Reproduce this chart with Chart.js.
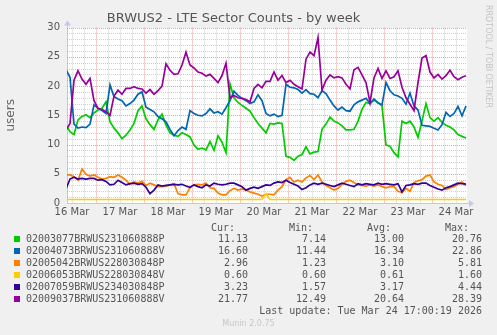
<!DOCTYPE html>
<html>
<head>
<meta charset="utf-8">
<script src="https://cdn.jsdelivr.net/npm/chart.js@4.4.0/dist/chart.umd.min.js"></script>
<style>
  body { margin: 0; background: #f0f0f0; }
  #wrap { position: relative; width: 497px; height: 335px; overflow: hidden; }
  #plotbg { position: absolute; left: 67px; top: 28px; width: 400px; height: 175px; background: #ffffff; }
  #c { position: absolute; left: 0; top: 0; }
  .lg { position: absolute; font: 10px 'DejaVu Sans Mono', monospace; color: #555; white-space: pre; line-height: 12px; }
  .sw { position: absolute; width: 6px; height: 6px; }
  #rrd { position: absolute; left: 484px; top: 5px; font: 8px 'DejaVu Sans', sans-serif; color: #c4c4c4; writing-mode: vertical-rl; }
  #munin { position: absolute; left: 0; width: 497px; top: 318px; text-align: center; font: 8px 'DejaVu Sans', sans-serif; color: #c8c8c8; line-height: 12px; }
</style>
</head>
<body>
<div id="wrap">
  <div id="plotbg"></div>
  <canvas id="c" width="497" height="335"></canvas>
  <div id="rrd">RRDTOOL / TOBI OETIKER</div>
  <div id="legend"></div>
  <div id="munin">Munin 2.0.75</div>
</div>
<script>
// Series names / colours (munin palette)
const seriesNames = [
    '02003077BRWUS231060888P',
    '02004073BRWUS231060888V',
    '02005042BRWUS228030848P',
    '02006053BRWUS228030848V',
    '02007059BRWUS234030848P',
    '02009037BRWUS231060888V'
];
const seriesColors = ['#00cc00', '#0066b3', '#ff8000', '#ffcc00', '#330099', '#990099'];

// samples every 2 hours, starting 16 Mar 09:00 (hours counted from 16 Mar 00:00)
const startHour = 9;
const stepHours = 2;

const green = [
    13.3, 12.2, 11.7, 14.2, 14.8, 15.1, 14.6, 15.4, 15.9, 16.2,
    17.3, 13.9, 12.8, 12.0, 11.0, 11.6, 12.5, 13.6, 15.8, 16.6,
    14.4, 13.4, 12.6, 14.2, 15.2, 13.3, 12.0, 11.6, 11.4, 12.0,
    11.7, 11.3, 9.9, 9.2, 9.4, 9.1, 10.5, 9.0, 11.5, 10.4,
    8.6, 20.4, 18.0, 17.2, 16.7, 16.2, 15.7, 14.6, 13.6, 12.8,
    12.0, 13.6, 13.5, 13.7, 13.6, 8.0, 7.8, 7.3, 8.0, 8.3,
    9.6, 8.4, 8.7, 8.8, 12.6, 13.5, 14.7, 14.0, 13.7, 13.2,
    12.5, 12.5, 12.6, 14.0, 16.0, 17.2, 17.0, 17.6, 17.2, 16.6,
    9.9, 9.7, 8.6, 7.9, 14.0, 13.6, 14.0, 13.0, 11.2, 14.0,
    17.0, 14.6, 14.0, 14.6, 13.8, 13.3, 13.0, 12.5, 11.7, 11.4,
    11.13
];
const blue = [
    22.8, 21.5, 13.5, 12.8, 13.0, 12.9, 13.5, 16.8, 16.2, 15.8,
    15.3, 20.2, 18.2, 17.8, 17.5, 16.6, 17.0, 17.6, 18.6, 19.0,
    16.4, 16.0, 15.6, 14.8, 14.4, 13.9, 12.6, 11.5, 12.4, 13.0,
    12.6, 15.8, 15.3, 15.0, 14.9, 15.3, 16.1, 15.4, 15.6, 15.2,
    16.3, 17.5, 19.1, 18.4, 17.9, 17.5, 17.0, 17.3, 18.5, 17.5,
    15.3, 14.9, 15.2, 14.8, 15.0, 20.3, 19.8, 19.7, 19.4, 18.8,
    19.4, 18.7, 18.6, 18.0, 19.2, 18.7, 17.6, 16.6, 15.9, 16.4,
    15.8, 15.7, 16.8, 17.3, 17.6, 17.9, 17.0, 17.8, 17.1, 16.8,
    20.6, 19.2, 18.5, 18.3, 17.9, 16.9, 18.8, 16.6, 15.9, 13.3,
    13.2, 13.1, 12.8, 12.5, 13.4, 15.5, 14.8, 15.3, 16.5, 14.9,
    16.60
];
const orange = [
    4.8, 4.8, 4.5, 3.9, 5.8, 4.9, 4.6, 4.8, 4.4, 4.1,
    4.2, 4.5, 4.4, 4.8, 4.4, 3.9, 3.2, 3.6, 3.4, 3.7,
    3.0, 3.4, 3.1, 2.8, 2.8, 2.9, 3.1, 3.3, 1.6, 1.4,
    1.4, 2.6, 3.1, 3.2, 3.1, 3.4, 2.6, 2.5, 1.7, 1.4,
    1.4, 2.1, 2.5, 2.2, 2.4, 2.2, 1.9, 1.7, 1.5, 1.2,
    1.5, 1.5, 1.4, 2.2, 2.8, 4.0, 4.4, 3.6, 3.9, 3.6,
    4.3, 4.7, 4.0, 4.8, 3.6, 3.0, 2.6, 2.2, 2.5, 3.2,
    3.7, 3.9, 3.5, 3.1, 3.0, 2.9, 3.1, 2.9, 3.1, 2.8,
    2.6, 2.8, 2.8, 2.0, 1.8, 2.5, 2.0, 3.5, 3.8, 4.0,
    4.6, 4.8, 3.6, 3.2, 3.0, 2.3, 2.6, 2.8, 3.2, 3.6,
    2.96
];
const yellow = [
    0.6, 0.6, 0.6, 0.6, 0.6, 0.6, 0.6, 0.6, 0.6, 0.6,
    0.6, 0.6, 0.6, 0.6, 0.6, 0.6, 0.6, 0.6, 0.6, 0.6,
    0.6, 0.6, 0.6, 0.6, 0.6, 0.6, 0.6, 0.6, 0.6, 0.6,
    0.6, 0.6, 0.6, 0.6, 0.6, 0.6, 0.6, 0.6, 0.6, 0.6,
    0.6, 0.6, 0.6, 0.6, 0.6, 0.6, 0.6, 0.6, 0.6, 0.6,
    1.6, 0.6, 0.6, 0.6, 0.6, 0.6, 0.6, 0.6, 0.6, 0.6,
    0.6, 0.6, 0.6, 0.6, 0.6, 0.6, 0.6, 0.6, 0.6, 0.6,
    0.6, 0.6, 0.6, 0.6, 0.6, 0.6, 0.6, 0.6, 0.6, 0.6,
    0.6, 0.6, 0.6, 0.6, 0.6, 0.6, 0.6, 0.6, 0.6, 0.6,
    0.6, 0.6, 0.6, 0.6, 0.6, 0.6, 0.6, 0.6, 0.6, 0.6,
    0.6
];
const indigo = [
    2.4, 4.1, 4.4, 4.1, 4.2, 4.1, 4.2, 4.2, 3.9, 4.0,
    3.7, 3.1, 3.2, 3.9, 3.5, 3.1, 3.3, 3.4, 3.2, 3.3,
    2.7, 1.6, 2.2, 3.1, 2.9, 3.0, 3.1, 3.2, 3.1, 3.2,
    2.9, 2.7, 3.1, 2.8, 2.6, 3.1, 2.9, 3.4, 3.2, 3.1,
    3.2, 3.4, 3.4, 3.1, 2.8, 2.2, 2.5, 2.7, 2.5, 2.8,
    3.1, 3.0, 3.4, 3.6, 3.5, 3.9, 3.5, 3.2, 2.9, 2.3,
    2.6, 3.1, 3.4, 3.2, 3.4, 3.2, 3.0, 2.8, 3.1, 3.4,
    3.2, 3.0, 2.8, 3.3, 3.1, 3.3, 3.2, 3.1, 3.4, 3.2,
    3.3, 3.2, 3.1, 3.3, 1.9, 3.0, 3.1, 3.3, 3.2, 3.4,
    3.4, 3.0, 2.7, 2.4, 2.2, 2.6, 2.8, 3.1, 3.4, 3.3,
    3.23
];
const purple = [
    12.5, 13.6, 21.0, 22.6, 21.2, 20.3, 21.3, 17.5, 16.2, 16.0,
    15.6, 15.0, 18.3, 19.3, 18.6, 19.6, 19.6, 19.9, 19.6, 19.5,
    18.8, 19.4, 18.6, 19.2, 20.0, 23.8, 22.7, 22.0, 22.1, 23.6,
    25.8, 23.6, 23.1, 22.4, 22.2, 21.7, 22.0, 21.3, 20.6, 21.8,
    23.9, 18.0, 18.4, 18.0, 17.9, 17.7, 17.3, 19.6, 20.3, 19.7,
    20.8, 20.8, 22.4, 21.0, 21.8, 20.6, 21.0, 20.3, 19.9, 19.5,
    24.6, 25.8, 25.2, 28.3, 19.3, 21.0, 21.9, 21.4, 21.6, 21.4,
    20.3, 19.5, 22.8, 23.2, 21.9, 20.6, 17.2, 21.4, 23.0, 21.3,
    22.6, 21.3, 21.6, 22.6, 19.8, 18.0, 16.9, 15.8, 20.6, 24.8,
    25.2, 22.4, 21.4, 22.0, 21.2, 21.8, 22.7, 21.6, 21.1, 21.5,
    21.77
];
const seriesValues = [green, blue, orange, yellow, indigo, purple];

// legend statistics
const curValues = [11.13, 16.60, 2.96, 0.60, 3.23, 21.77];
const minValues = [7.14, 11.44, 1.23, 0.60, 1.57, 12.49];
const avgValues = [13.00, 16.34, 3.10, 0.61, 3.17, 20.64];
const maxValues = [20.76, 22.86, 5.81, 1.60, 4.44, 28.39];

// x axis: day labels sit at noon of each day
const dayLabels = ['16 Mar', '17 Mar', '18 Mar', '19 Mar', '20 Mar', '21 Mar', '22 Mar', '23 Mar', '24 Mar'];
const lastUpdate = 'Last update: Tue Mar 24 17:00:19 2026';

const axisColor = '#c3c6f2';
const majorGrid = 'rgba(225, 110, 110, 0.65)';
const minorGrid = 'rgba(150, 150, 150, 0.45)';

Chart.defaults.font.family = 'DejaVu Sans';

// rrdtool style dotted grid, placed on the scale ticks, under the lines
const rrdGrid = {
    id: 'rrdGrid',
    beforeDatasetsDraw(chart) {
        const { ctx, chartArea: a, scales: { x, y } } = chart;
        ctx.save();
        ctx.lineWidth = 1;
        ctx.setLineDash([1, 1]);
        x.ticks.forEach(t => {
            const px = Math.round(x.getPixelForValue(t.value)) + 0.5;
            ctx.strokeStyle = (t.value % 24 === 0) ? majorGrid : minorGrid;
            ctx.beginPath();
            ctx.moveTo(px, a.top);
            ctx.lineTo(px, a.bottom);
            ctx.stroke();
        });
        y.ticks.forEach(t => {
            if (t.value === 0) return;
            const py = Math.round(y.getPixelForValue(t.value)) + 0.5;
            ctx.strokeStyle = (t.value % 5 === 0) ? majorGrid : minorGrid;
            ctx.beginPath();
            ctx.moveTo(a.left, py);
            ctx.lineTo(a.right, py);
            ctx.stroke();
        });
        ctx.restore();
    }
};

// little arrow heads at the end of both axes
const axisArrows = {
    id: 'axisArrows',
    afterDraw(chart) {
        const { ctx, chartArea: a } = chart;
        const lx = Math.round(a.left) + 0.5;
        const by = Math.round(a.bottom) + 0.5;
        ctx.save();
        ctx.strokeStyle = axisColor;
        ctx.fillStyle = axisColor;
        ctx.lineWidth = 1;
        ctx.beginPath();
        ctx.moveTo(lx, a.top); ctx.lineTo(lx, a.top - 3);
        ctx.moveTo(a.right, by); ctx.lineTo(a.right + 3, by);
        ctx.stroke();
        ctx.beginPath();
        ctx.moveTo(lx, a.top - 7); ctx.lineTo(lx - 3.5, a.top - 2); ctx.lineTo(lx + 3.5, a.top - 2);
        ctx.closePath(); ctx.fill();
        ctx.beginPath();
        ctx.moveTo(a.right + 7, by); ctx.lineTo(a.right + 2, by - 3.5); ctx.lineTo(a.right + 2, by + 3.5);
        ctx.closePath(); ctx.fill();
        ctx.restore();
    }
};

// dataset 0 is painted last, so list the series in reverse (purple ends up on top)
const datasets = seriesValues.map((vals, i) => ({
    label: seriesNames[i],
    data: vals.map((v, k) => ({ x: startHour + k * stepHours, y: v })),
    borderColor: seriesColors[i],
    borderWidth: 1.7,
    pointRadius: 0
})).reverse();

const ctx = document.getElementById('c').getContext('2d');
const chart = new Chart(ctx, {
    type: 'line',
    data: { datasets },
    options: {
        responsive: false,
        animation: false,
        layout: { padding: { left: 0, right: 30, top: 0, bottom: 112 } },
        plugins: {
            legend: { display: false },
            tooltip: { enabled: false },
            title: {
                display: true,
                text: 'BRWUS2 - LTE Sector Counts - by week',
                color: '#555',
                font: { size: 13, weight: 'normal' },
                padding: { top: 11, bottom: 1 }
            }
        },
        scales: {
            x: {
                type: 'linear',
                min: 9.5,
                max: 209.5,
                afterBuildTicks: (scale) => {
                    const t = [];
                    for (let h = 12; h <= 204; h += 6) t.push({ value: h });
                    scale.ticks = t;
                },
                afterFit: (scale) => { scale.height = 20; },
                grid: { display: false, drawTicks: false },
                border: { display: true, color: axisColor },
                ticks: {
                    autoSkip: false,
                    maxRotation: 0,
                    padding: 3,
                    color: '#555',
                    font: { size: 10 },
                    callback: (v) => (v % 24 === 12) ? dayLabels[(v - 12) / 24] : ''
                }
            },
            y: {
                min: 0,
                max: 30,
                afterBuildTicks: (scale) => {
                    const t = [];
                    for (let v = 0; v <= 30; v++) t.push({ value: v });
                    scale.ticks = t;
                },
                afterFit: (scale) => { scale.width = 67; },
                grid: { display: false, drawTicks: false },
                border: { display: true, color: axisColor },
                title: {
                    display: true,
                    text: 'users',
                    color: '#666',
                    font: { size: 12 },
                    padding: { top: 4, bottom: 0 }
                },
                ticks: {
                    autoSkip: false,
                    padding: 7,
                    color: '#555',
                    font: { size: 10 },
                    callback: (v) => (v % 5 === 0) ? String(v) : ''
                }
            }
        }
    },
    plugins: [rrdGrid, axisArrows]
});

// Legend table (HTML text)
const legendBox = document.getElementById('legend');
function addText(text, top, opts) {
    const d = document.createElement('div');
    d.className = 'lg';
    d.textContent = text;
    d.style.top = top + 'px';
    if (opts.left !== undefined) d.style.left = opts.left + 'px';
    if (opts.right !== undefined) d.style.right = opts.right + 'px';
    legendBox.appendChild(d);
}
const colRights = [249, 171, 93, 15];
const headers = ['Cur:', 'Min:', 'Avg:', 'Max:'];
headers.forEach((h, j) => addText(h, 222, { right: colRights[j] + 13 }));
seriesNames.forEach((name, i) => {
    const top = 233 + i * 12;
    const sw = document.createElement('div');
    sw.className = 'sw';
    sw.style.left = '14px';
    sw.style.top = (top + 3) + 'px';
    sw.style.background = seriesColors[i];
    legendBox.appendChild(sw);
    addText(name, top, { left: 26 });
    [curValues, minValues, avgValues, maxValues].forEach((arr, j) => {
        addText(arr[i].toFixed(2), top, { right: colRights[j] });
    });
});
addText(lastUpdate, 305, { right: 15 });
</script>
</body>
</html>
